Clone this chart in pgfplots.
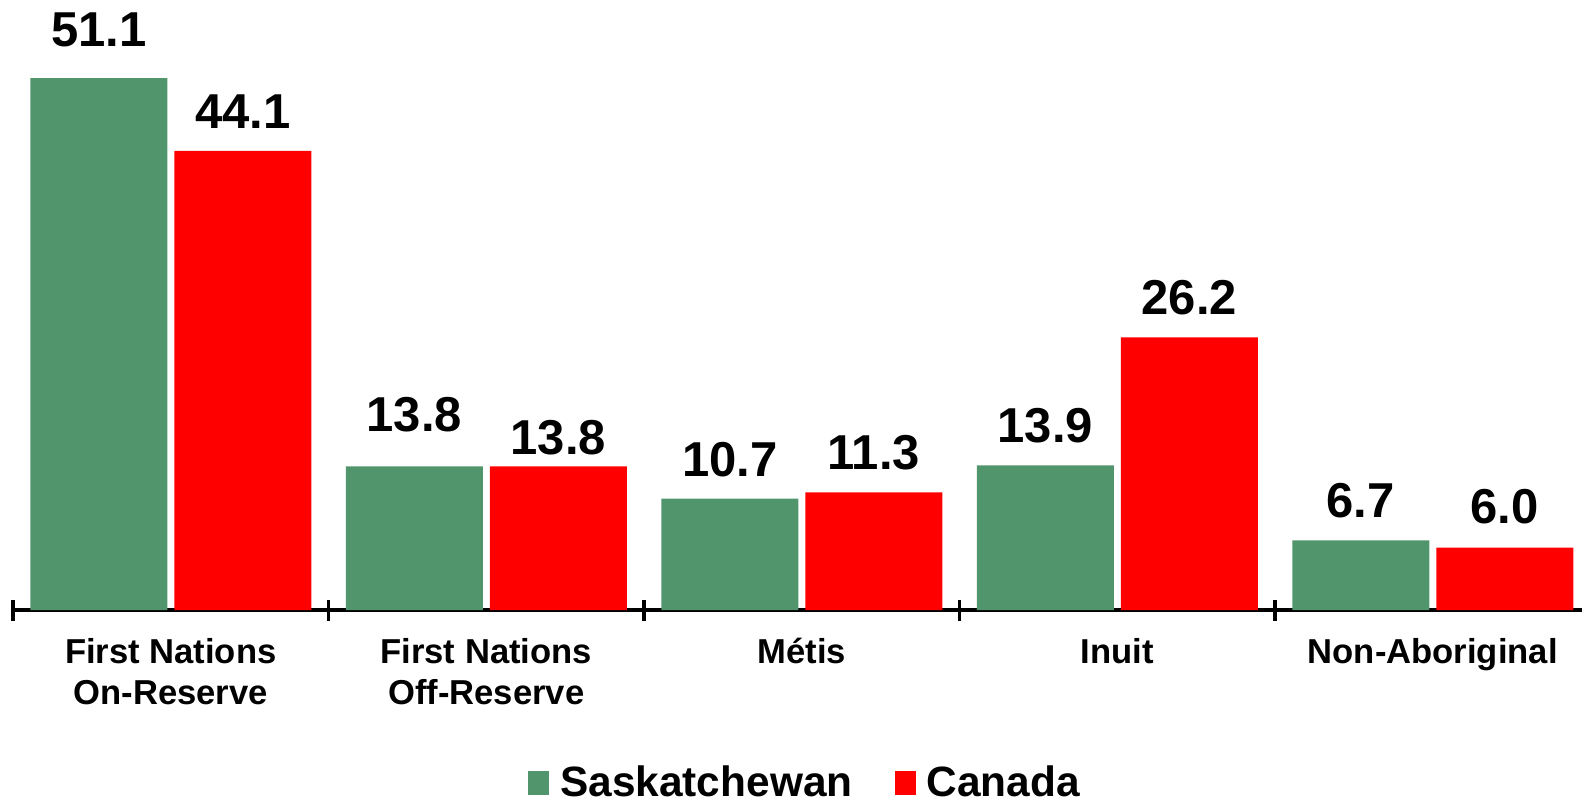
\documentclass[border=0pt]{standalone}
\usepackage{fontspec}
\setmainfont{Liberation Sans}
\usepackage{pgfplots}
\usepackage{pgfplotstable}
\pgfplotsset{compat=1.18}

\definecolor{skgreen}{RGB}{81,149,108}
\definecolor{cared}{RGB}{255,0,0}

% x = group, y = rate, off = extra label lift (pt)
\pgfplotstableread{
x y off
0 51.1 4.6
1 13.8 6.3
2 10.7 0
3 13.9 0.2
4 6.7 0
}\sask
\pgfplotstableread{
x y off
0 44.1 0
1 13.8 -5.4
2 11.3 0
3 26.2 0
4 6.0 0.6
}\canada

\begin{document}
\begin{tikzpicture}
\begin{axis}[
    scale only axis,
    width=784.5pt, height=305pt,
    xmin=-0.5, xmax=4.473,
    ymin=0, ymax=58.6,
    clip=false,
    enlarge x limits=false,
    ybar=3.5pt,
    bar width=68.5pt,
    axis x line=bottom,
    axis y line=none,
    x axis line style={-, line width=2pt},
    xtick={0,1,2,3,4},
    xticklabels={First Nations\\On-Reserve, First Nations\\Off-Reserve, M\smash{é}tis, Inuit, Non-Aboriginal},
    major tick length=0pt,
    minor xtick={-0.5,0.5,1.5,2.5,3.5},
    minor tick length=10.5pt,
    tick align=center,
    minor tick style={black, line width=1.75pt},
    xticklabel style={font=\fontsize{17.3}{20.5}\selectfont\bfseries, align=center, anchor=north, inner sep=0pt, yshift=-14pt},
    /pgf/number format/assume math mode=true,
    nodes near coords={\pgfmathprintnumber[fixed,fixed zerofill,precision=1]{\pgfplotspointmeta}},
    visualization depends on={\thisrow{off} \as \labeloff},
    every node near coord/.append style={font=\fontsize{24.5}{28}\selectfont\bfseries, anchor=base, inner sep=0pt, yshift={(11.2+\labeloff)*1pt}},
    legend columns=2,
    legend style={draw=none, at={(0.5054,-0.2828)}, anchor=center,
        font=\fontsize{21.2}{24}\selectfont\bfseries,
        nodes={inner ysep=1pt},
        /tikz/every odd column/.append style={column sep=3.5pt},
        /tikz/every even column/.append style={column sep=19pt}},
    legend image code/.code={\fill[#1] (0pt,-6pt) rectangle (10.5pt,6pt);},
]
\addplot[fill=skgreen, draw=none] table[x=x, y=y] {\sask};
\addplot[fill=cared, draw=none] table[x=x, y=y] {\canada};
\legend{Saskatchewan, Canada}
\end{axis}
\pgfresetboundingbox
\useasboundingbox (-6.5pt,-94.5pt) rectangle (784.5pt,305pt);
\end{tikzpicture}
\end{document}
